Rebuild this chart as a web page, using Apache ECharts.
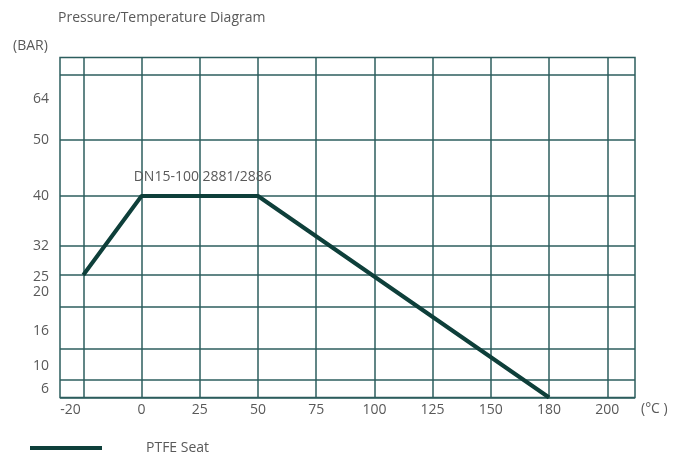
<!DOCTYPE html>
<html>
<head>
<meta charset="utf-8">
<script src="https://cdn.jsdelivr.net/npm/echarts@6/dist/echarts.min.js"></script>
<style>
html,body{margin:0;padding:0;background:#fff;}
#chart{width:683px;height:455px;}
</style>
</head>
<body>
<div id="chart"></div>
<script>
// ---- data ----
const tempLabels = ['-20', '0', '25', '50', '75', '100', '125', '150', '180', '200'];
const pressureLevels = [6, 10, 16, 20, 25, 32, 40, 50, 64];
const seriesTemps = [-20, 0, 50, 180];
const seriesPressures = [25, 40, 40, 6];
const seriesName = 'PTFE Seat';
const annotationText = 'DN15-100 2881/2886';

// ---- layout scale (axis units for the non-linear pressure grid) ----
const levelPos = [0, 17.5, 48.5, 90.5, 122.5, 151.5, 201.5, 257.5, 322.5];
const labelPos = [8.5, 31.7, 66.5, 105.5, 120, 151.5, 201.5, 257.5, 298.5];
const xLabelPos = [-0.22, 1, 2, 3, 4, 5, 6, 7, 8, 9];

const tempIndex = t => tempLabels.indexOf(String(t));
const pressLevel = p => levelPos[pressureLevels.indexOf(p)];

const seriesData = seriesTemps.map((t, i) => [tempIndex(t), pressLevel(seriesPressures[i])]);

const gridColor = '#2C5E5E';
const lineColor = '#0E3F3A';
const textColor = '#595959';
const fontFamily = '"Open Sans", "Noto Sans", sans-serif';

const chart = echarts.init(document.getElementById('chart'), null, {renderer: 'canvas'});
chart.setOption({
  animation: false,
  title: [{
    text: 'Pressure/Temperature Diagram',
    left: 53, top: 6,
    textStyle: {fontSize: 14, fontWeight: 'normal', color: textColor, fontFamily}
  }, {
    text: '(BAR)',
    left: 8, top: 34,
    textStyle: {fontSize: 14, fontWeight: 'normal', color: textColor, fontFamily}
  }],
  legend: {
    left: 25, top: 436,
    icon: 'rect',
    itemWidth: 72, itemHeight: 4,
    data: [seriesName],
    textStyle: {fontSize: 14, color: textColor, fontFamily, padding: [0, 0, 0, 39]}
  },
  grid: {
    left: 60, right: 48, top: 57.5, bottom: 57.5,
    show: true, borderColor: gridColor, borderWidth: 1.5, backgroundColor: 'transparent'
  },
  xAxis: {
    type: 'value',
    min: -0.4, max: 9.476,
    name: '(°C )',
    nameLocation: 'end',
    nameGap: 6,
    nameTextStyle: {fontSize: 14, color: textColor, fontFamily, verticalAlign: 'top', padding: [5, 0, 0, 0]},
    axisLine: {show: false},
    axisTick: {show: false, customValues: [0, 1, 2, 3, 4, 5, 6, 7, 8, 9]},
    axisLabel: {
      customValues: xLabelPos,
      margin: 6,
      fontSize: 14, color: textColor, fontFamily,
      formatter: v => tempLabels[Math.max(0, Math.round(v))]
    },
    splitLine: {show: true, lineStyle: {color: gridColor, width: 1.5}}
  },
  yAxis: {
    type: 'value',
    min: 0, max: 340,
    axisLine: {show: false},
    axisTick: {show: false, customValues: levelPos},
    axisLabel: {
      customValues: labelPos,
      margin: 11,
      fontSize: 14, color: textColor, fontFamily,
      formatter: v => {
        let best = 0;
        labelPos.forEach((p, i) => { if (Math.abs(p - v) < Math.abs(labelPos[best] - v)) best = i; });
        return String(pressureLevels[best]);
      }
    },
    splitLine: {show: true, lineStyle: {color: gridColor, width: 1.5}}
  },
  series: [{
    name: seriesName,
    type: 'line',
    data: seriesData,
    symbol: 'none',
    lineStyle: {color: lineColor, width: 4},
    itemStyle: {color: lineColor},
    markPoint: {
      symbol: 'rect', symbolSize: 0,
      data: [{coord: [tempIndex(25), pressLevel(40)], value: annotationText}],
      label: {
        show: true, position: 'inside', offset: [3, -19],
        formatter: annotationText,
        fontSize: 14, color: textColor, fontFamily
      }
    }
  }]
});
</script>
</body>
</html>
